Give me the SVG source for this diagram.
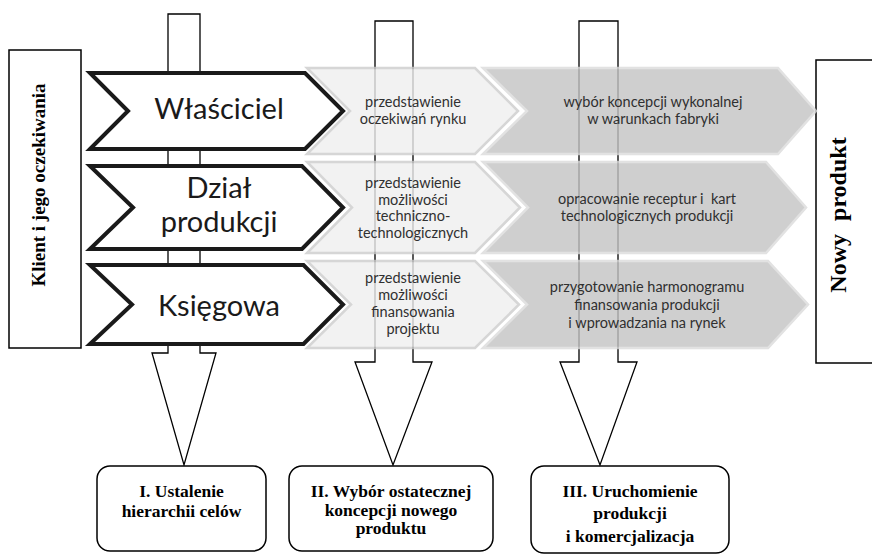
<svg xmlns="http://www.w3.org/2000/svg" width="872" height="555" viewBox="0 0 872 555">
<style>
.side{fill:#fff;stroke:#000;stroke-width:1.5}
.arr{fill:#fff;stroke:#000;stroke-width:1.3;stroke-linejoin:miter}
.c1{fill:#fff;stroke:#1a1a1a;stroke-width:4;stroke-linejoin:miter}
.c2{fill:#efefef;stroke:#cccccc;stroke-width:2.5}
.c3{fill:#c4c4c4;stroke:#dbdbdb;stroke-width:2.5}
.box{fill:#fff;stroke:#000;stroke-width:1.5}
.serif{font-family:"Liberation Serif","Times New Roman",serif;font-weight:bold;fill:#000;text-anchor:middle}
.big{font-family:Lato,"Noto Sans",sans-serif;font-size:29px;fill:#1a1a1a;text-anchor:middle}
.sm{font-family:Lato,"Noto Sans",sans-serif;font-size:14.5px;fill:#303030;text-anchor:middle}
</style>

<g id="client">
<rect class="side" x="9" y="50" width="72" height="298"/>
<text class="serif" font-size="19" transform="translate(44.5,185) rotate(-90)">Klient i jego oczekiwania</text>
</g>

<g id="product">
<rect class="side" x="816" y="60" width="70" height="303"/>
<text class="serif" font-size="24" word-spacing="7" transform="translate(846,215) rotate(-90)">Nowy produkt</text>
</g>

<g id="connectors">
<path class="arr" d="M168,14 V353 H152 L184,465 L216,353 H200 V14 Z"/>
<path class="arr" d="M375,21 V362 H355 L393,465 L432,362 H413 V21 Z"/>
<path class="arr" d="M579,21 V362 H560 L600,465 L637,362 H618 V21 Z"/>
</g>

<g id="row1">
<path class="c1" d="M90,73 H305 L343,111 L305,149 H90 L128,111 Z"/>
<text class="big" x="219" y="119">Właściciel</text>
<g opacity="0.8">
<path class="c2" d="M307,68 H475 L518,111 L475,154 H307 L350,111 Z"/>
<path class="c3" d="M483,68 H778 L816,111 L778,154 H483 L527,111 Z"/>
</g>
<text class="sm" x="413" y="107">przedstawienie</text>
<text class="sm" x="413" y="124">oczekiwań rynku</text>
<text class="sm" x="653" y="107">wybór koncepcji wykonalnej</text>
<text class="sm" x="653" y="124">w warunkach fabryki</text>
</g>

<g id="row2">
<path class="c1" d="M90,166 H302 L343,207.5 L302,249 H90 L133,207.5 Z"/>
<text class="big" x="219" y="198">Dział</text>
<text class="big" x="219" y="232">produkcji</text>
<g opacity="0.8">
<path class="c2" d="M307,162 H475 L520,207.5 L475,253 H307 L352,207.5 Z"/>
<path class="c3" d="M483,162 H766 L806,207.5 L766,253 H483 L528,207.5 Z"/>
</g>
<text class="sm" x="413" y="188">przedstawienie</text>
<text class="sm" x="413" y="204.5">możliwości</text>
<text class="sm" x="413" y="221">techniczno-</text>
<text class="sm" x="413" y="237.5">technologicznych</text>
<text class="sm" x="647" y="204" xml:space="preserve">opracowanie receptur i  kart</text>
<text class="sm" x="647" y="220.5">technologicznych produkcji</text>
</g>

<g id="row3">
<path class="c1" d="M90,265 H303.5 L343,304.5 L303.5,344 H90 L132,304.5 Z"/>
<text class="big" x="219" y="315.5">Księgowa</text>
<g opacity="0.8">
<path class="c2" d="M307,261 H475 L519,304.5 L475,348 H307 L351,304.5 Z"/>
<path class="c3" d="M483,261 H768 L808,304.5 L768,348 H483 L527,304.5 Z"/>
</g>
<text class="sm" x="413" y="282.5">przedstawienie</text>
<text class="sm" x="413" y="299.5">możliwości</text>
<text class="sm" x="413" y="316.5">finansowania</text>
<text class="sm" x="413" y="334">projektu</text>
<text class="sm" x="647" y="292">przygotowanie harmonogramu</text>
<text class="sm" x="647" y="310">finansowania produkcji</text>
<text class="sm" x="647" y="328">i wprowadzania na rynek</text>
</g>

<g id="stage1">
<rect class="box" x="97" y="466" width="169" height="85" rx="13"/>
<text class="serif" font-size="17.5" x="181.5" y="496.5">I. Ustalenie</text>
<text class="serif" font-size="17.5" x="181.5" y="517">hierarchii celów</text>
</g>

<g id="stage2">
<rect class="box" x="289" y="466" width="204" height="85" rx="13"/>
<text class="serif" font-size="17.5" x="391" y="497">II. Wybór ostatecznej</text>
<text class="serif" font-size="17.5" x="391" y="515.5">koncepcji nowego</text>
<text class="serif" font-size="17.5" x="391" y="534">produktu</text>
</g>

<g id="stage3">
<rect class="box" x="531" y="466" width="198" height="87" rx="13"/>
<text class="serif" font-size="17.5" x="630" y="496.5">III. Uruchomienie</text>
<text class="serif" font-size="17.5" x="630" y="518.5">produkcji</text>
<text class="serif" font-size="17.5" x="630" y="541.5">i komercjalizacja</text>
</g>
</svg>
